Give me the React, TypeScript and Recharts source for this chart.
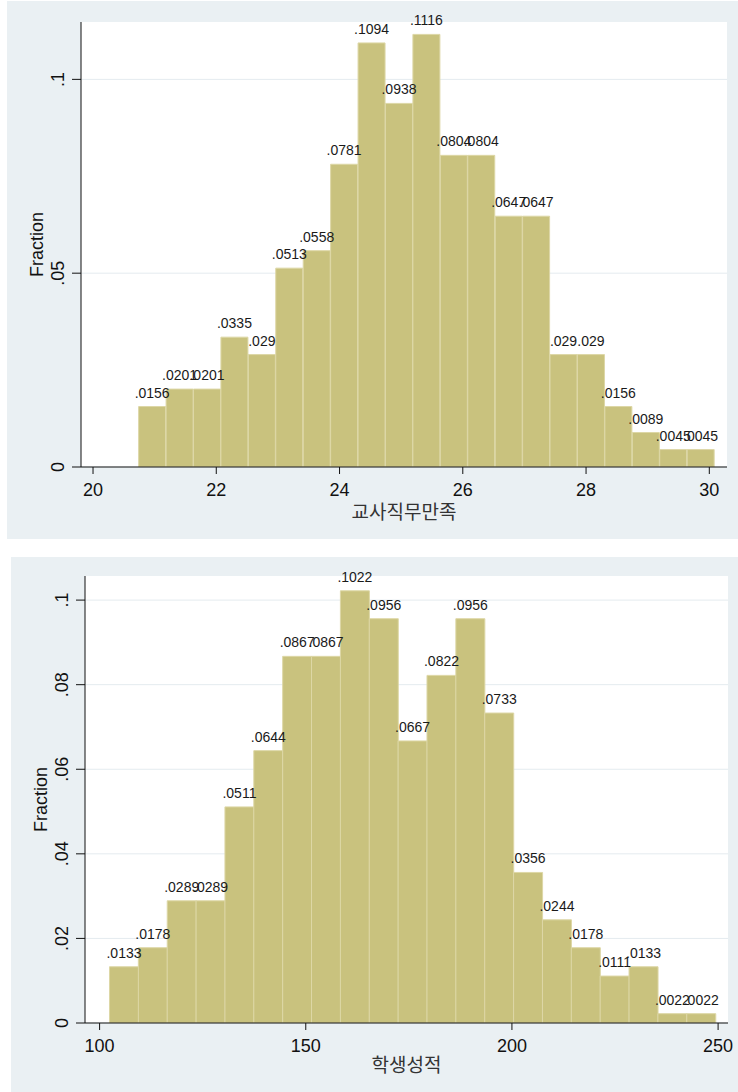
import { BarChart, Bar, XAxis, YAxis, CartesianGrid, LabelList, Label } from "recharts";

// 교사직무만족 histogram (bin midpoints, fraction)
const teacherBins = [
  20.963, 21.408, 21.853, 22.298, 22.743, 23.188, 23.633, 24.078, 24.523, 24.968, 25.413,
  25.858, 26.303, 26.748, 27.193, 27.638, 28.083, 28.528, 28.973, 29.418, 29.863,
];
const teacherFrac = [
  0.0156, 0.0201, 0.0201, 0.0335, 0.029, 0.0513, 0.0558, 0.0781, 0.1094, 0.0938, 0.1116,
  0.0804, 0.0804, 0.0647, 0.0647, 0.029, 0.029, 0.0156, 0.0089, 0.0045, 0.0045,
];
const teacherXTicks = [20, 22, 24, 26, 28, 30];
const teacherYTicks = [0, 0.05, 0.1];

// 학생성적 histogram
const studentBins = [
  105.9, 112.9, 119.9, 126.9, 133.9, 140.9, 147.9, 154.9, 161.9, 168.9, 175.9,
  182.9, 189.9, 196.9, 203.9, 210.9, 217.9, 224.9, 231.9, 238.9, 245.9,
];
const studentFrac = [
  0.0133, 0.0178, 0.0289, 0.0289, 0.0511, 0.0644, 0.0867, 0.0867, 0.1022, 0.0956, 0.0667,
  0.0822, 0.0956, 0.0733, 0.0356, 0.0244, 0.0178, 0.0111, 0.0133, 0.0022, 0.0022,
];
const studentXTicks = [100, 150, 200, 250];
const studentYTicks = [0, 0.02, 0.04, 0.06, 0.08, 0.1];

const BG = "#EAF0F3";
const BAR = "#C9C27E";
const FONT = "'Liberation Sans', Arial, sans-serif";
const KFONT = "'Noto Sans CJK KR', sans-serif";

// stata style: drop the leading zero
const fmt = (v: number) => String(v).replace(/^0\./, ".");

function XTick({ x, y, payload }: any) {
  return (
    <text x={x} y={y + 22} textAnchor="middle" fontSize={18} fontFamily={FONT} fill="#111">
      {payload.value}
    </text>
  );
}

function YTick({ x, y, payload }: any) {
  const bx = x - 8;
  return (
    <text x={bx} y={y} transform={`rotate(-90, ${bx}, ${y})`} textAnchor="middle" fontSize={18} fontFamily={FONT} fill="#111">
      {fmt(payload.value)}
    </text>
  );
}

function FractionLabel({ viewBox }: any) {
  const x = viewBox.x + 36;
  const y = viewBox.y + viewBox.height / 2;
  return (
    <text x={x} y={y} transform={`rotate(-90, ${x}, ${y})`} textAnchor="middle" fontSize={18} fontFamily={FONT} fill="#111">
      Fraction
    </text>
  );
}

interface HistProps {
  bins: number[];
  frac: number[];
  xTicks: number[];
  yTicks: number[];
  xDomain: [number, number];
  yDomain: [number, number];
  title: string;
  width: number;
  height: number;
  top: number;
  right: number;
  axisH: number;
}

function Histogram({ bins, frac, xTicks, yTicks, xDomain, yDomain, title, width, height, top, right, axisH }: HistProps) {
  const data = bins.map((b, i) => ({ mid: b, fraction: frac[i] }));
  return (
    <BarChart
      width={width}
      height={height}
      data={data}
      margin={{ top, right, left: 0, bottom: 0 }}
      barCategoryGap={0}
      barGap={0}
    >
      <CartesianGrid vertical={false} stroke="#E4EBEF" fill="#FFFFFF" horizontalValues={yTicks} />
      <XAxis
        dataKey="mid"
        type="number"
        domain={xDomain}
        ticks={xTicks}
        allowDataOverflow
        height={axisH}
        tickSize={7}
        tickMargin={0}
        tick={<XTick />}
        axisLine={{ stroke: "#111" }}
        tickLine={{ stroke: "#111" }}
      >
        <Label value={title} position="insideBottom" offset={20} fontSize={19} fontFamily={KFONT} fill="#333" />
      </XAxis>
      <YAxis
        type="number"
        domain={yDomain}
        ticks={yTicks}
        allowDataOverflow
        width={74}
        tickSize={9}
        tickMargin={0}
        tick={<YTick />}
        axisLine={{ stroke: "#111" }}
        tickLine={{ stroke: "#111" }}
      >
        <Label content={<FractionLabel />} />
      </YAxis>
      <Bar dataKey="fraction" fill={BAR} stroke="#DDD7A6" strokeWidth={1} isAnimationActive={false}>
        <LabelList dataKey="fraction" position="top" offset={9} formatter={(v: any) => fmt(v)} fontSize={14} fontFamily={FONT} fill="#1a1a1a" />
      </Bar>
    </BarChart>
  );
}

export default function App() {
  return (
    <div style={{ position: "absolute", left: 0, top: 0, width: 738, height: 1092, background: "#fff" }}>
      <div style={{ position: "absolute", left: 7, top: 1, width: 731, height: 538, background: BG }}>
        <Histogram
          bins={teacherBins}
          frac={teacherFrac}
          xTicks={teacherXTicks}
          yTicks={teacherYTicks}
          xDomain={[19.805, 30.287]}
          yDomain={[0, 0.1148]}
          title="교사직무만족"
          width={731}
          height={538}
          top={21}
          right={11}
          axisH={72}
        />
      </div>
      <div style={{ position: "absolute", left: 11, top: 557, width: 727, height: 535, background: BG }}>
        <Histogram
          bins={studentBins}
          frac={studentFrac}
          xTicks={studentXTicks}
          yTicks={studentYTicks}
          xDomain={[96.46, 252.4]}
          yDomain={[0, 0.1057]}
          title="학생성적"
          width={727}
          height={535}
          top={19}
          right={10}
          axisH={69}
        />
      </div>
    </div>
  );
}
